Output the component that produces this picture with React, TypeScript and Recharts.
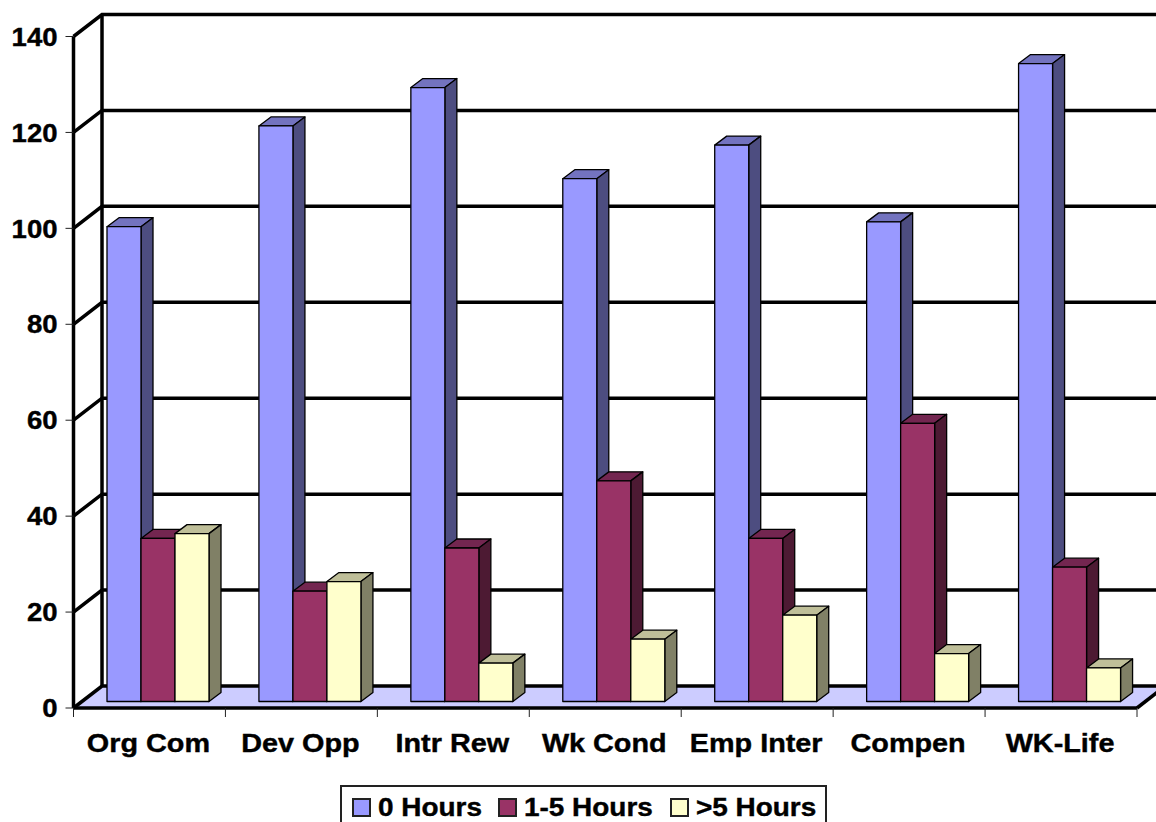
import React from "react";
import { BarChart, Bar, XAxis, YAxis, CartesianGrid, Legend } from "recharts";

const categories = ["Org Com", "Dev Opp", "Intr Rew", "Wk Cond", "Emp Inter", "Compen", "WK-Life"];
const zeroHours = [99, 120, 128, 109, 116, 100, 133];
const oneToFiveHours = [34, 23, 32, 46, 34, 58, 28];
const overFiveHours = [35, 25, 8, 13, 18, 10, 7];
const valueTicks = [0, 20, 40, 60, 80, 100, 120, 140];

const rows = categories.map((name, i) => ({
  name,
  zero: zeroHours[i],
  oneToFive: oneToFiveHours[i],
  overFive: overFiveHours[i],
}));

// Chart frame and the oblique projection of its 3D box
const WIDTH = 1156;
const HEIGHT = 822;
const PLOT_LEFT = 73.5;
const PLOT_RIGHT = 1137;
const PLOT_TOP = 36.5;
const PLOT_BOTTOM = 708;
const WALL_DX = 28.5;
const WALL_DY = -22;
const BAR_DX = 8.5;
const BAR_DY = -6.5;
const BAR_DEPTH_X = 12;
const BAR_DEPTH_Y = -9;
const BAND = (PLOT_RIGHT - PLOT_LEFT) / categories.length;
const FONT = "'Liberation Sans', Arial, sans-serif";
const TEXT_SIZE = 25.5;
const CATEGORY_STRETCH = 1.13;
const VALUE_STRETCH = 1.08;
const LEGEND_STRETCH = 1.095;
const LINE_WIDTH = 3.5;

const shades: Record<string, { top: string; side: string }> = {
  "#9999FF": { top: "#7373BF", side: "#4D4D80" },
  "#993366": { top: "#732650", side: "#4D1A33" },
  "#FFFFCC": { top: "#BFBF99", side: "#808066" },
};

// Front face plus the top and side faces of one bar
function Bar3D(props: any) {
  const { x, y, width, height, fill } = props;
  if (!(height > 0)) return null;
  const left = x + BAR_DX;
  const right = left + width;
  const top = y + BAR_DY;
  const bottom = top + height;
  const tone = shades[fill];
  const common = { stroke: "#000", strokeWidth: 1.3, strokeLinejoin: "round" as const };
  return (
    <g>
      <polygon
        points={`${left},${top} ${left + BAR_DEPTH_X},${top + BAR_DEPTH_Y} ${right + BAR_DEPTH_X},${top + BAR_DEPTH_Y} ${right},${top}`}
        fill={tone.top}
        {...common}
      />
      <polygon
        points={`${right},${top} ${right + BAR_DEPTH_X},${top + BAR_DEPTH_Y} ${right + BAR_DEPTH_X},${bottom + BAR_DEPTH_Y} ${right},${bottom}`}
        fill={tone.side}
        {...common}
      />
      <rect x={left} y={top} width={width} height={height} fill={fill} {...common} />
    </g>
  );
}

// One gridline wraps from the front edge, up the side wall, and across the back wall
function gridLevel(p: any) {
  const y = p.y1;
  const backY = y + WALL_DY;
  const isFloor = Math.abs(y - PLOT_BOTTOM) < 1;
  const isCeiling = Math.abs(y - PLOT_TOP) < 1;
  const backX = PLOT_LEFT + WALL_DX;
  return (
    <g key={p.key}>
      {isFloor && (
        <polygon
          points={`${PLOT_LEFT},${y} ${backX},${backY} ${PLOT_RIGHT + WALL_DX},${backY} ${PLOT_RIGHT},${y}`}
          fill="#CCCCFF"
        />
      )}
      {isFloor && (
        <line x1={PLOT_RIGHT} y1={y} x2={PLOT_RIGHT + WALL_DX} y2={backY} stroke="#000" strokeWidth={LINE_WIDTH} />
      )}
      {isCeiling && (
        <line x1={backX} y1={backY} x2={backX} y2={PLOT_BOTTOM + WALL_DY} stroke="#000" strokeWidth={LINE_WIDTH} />
      )}
      <polyline
        points={`${PLOT_LEFT},${y} ${backX},${backY} ${WIDTH},${backY}`}
        fill="none"
        stroke="#000"
        strokeWidth={LINE_WIDTH}
      />
    </g>
  );
}

function ValueTick(props: any) {
  const { x, y, payload } = props;
  return (
    <text
      transform={`translate(${x},${y}) scale(${VALUE_STRETCH},1)`}
      textAnchor="end"
      dy="0.36em"
      fontFamily={FONT}
      fontWeight="bold"
      fontSize={TEXT_SIZE}
      fill="#000"
      stroke="#000"
      strokeWidth={0.4}
    >
      {payload.value}
    </text>
  );
}

// Tick marks sit on the band boundaries, the label on the band centre
function CategoryTick(props: any) {
  const { x, y, payload, index } = props;
  const edge = x - BAND / 2;
  return (
    <g>
      <line x1={edge} y1={PLOT_BOTTOM} x2={edge} y2={PLOT_BOTTOM + 9} stroke="#222" strokeWidth={1} />
      {index === categories.length - 1 && (
        <line x1={edge + BAND} y1={PLOT_BOTTOM} x2={edge + BAND} y2={PLOT_BOTTOM + 9} stroke="#222" strokeWidth={1} />
      )}
      <text
        transform={`translate(${x - 1},${PLOT_BOTTOM + 44}) scale(${CATEGORY_STRETCH},1)`}
        textAnchor="middle"
        fontFamily={FONT}
        fontWeight="bold"
        fontSize={TEXT_SIZE}
        fill="#000"
        stroke="#000"
        strokeWidth={0.4}
      >
        {payload.value}
      </text>
    </g>
  );
}

const legendStarts = [10, 156, 328];

function LegendBox(props: any) {
  const items = props.payload || [];
  return (
    <div
      style={{
        position: "relative",
        width: 487,
        height: 50,
        boxSizing: "border-box",
        border: "2px solid #222",
        background: "#fff",
      }}
    >
      {items.map((item: any, i: number) => (
        <div key={item.value} style={{ position: "absolute", left: legendStarts[i], top: 11 }}>
          <span
            style={{
              position: "absolute",
              left: 0,
              top: 0,
              width: 19,
              height: 19,
              boxSizing: "border-box",
              background: item.color,
              border: "2px solid #222",
            }}
          />
          <span
            style={{
              position: "absolute",
              left: 26,
              top: -6,
              whiteSpace: "nowrap",
              fontFamily: FONT,
              fontWeight: "bold",
              fontSize: TEXT_SIZE,
              lineHeight: "30px",
              color: "#000",
              WebkitTextStroke: "0.4px #000",
              transformOrigin: "left top",
              transform: `scaleX(${LEGEND_STRETCH})`,
            }}
          >
            {item.value}
          </span>
        </div>
      ))}
    </div>
  );
}

export default function App() {
  return (
    <div
      style={{
        position: "absolute",
        left: 0,
        top: 0,
        width: WIDTH,
        height: HEIGHT,
        overflow: "hidden",
        background: "#fff",
      }}
    >
      <BarChart
        width={WIDTH}
        height={HEIGHT}
        data={rows}
        barSize={34}
        barGap={0}
        margin={{ left: 0, top: PLOT_TOP, right: WIDTH - PLOT_RIGHT, bottom: HEIGHT - PLOT_BOTTOM - 40 }}
      >
        <CartesianGrid vertical={false} horizontal={gridLevel} />
        <XAxis
          dataKey="name"
          height={40}
          interval={0}
          tickLine={false}
          tick={<CategoryTick />}
          axisLine={{ stroke: "#000", strokeWidth: LINE_WIDTH }}
        />
        <YAxis
          width={PLOT_LEFT}
          domain={[0, 140]}
          ticks={valueTicks}
          interval={0}
          tickSize={8}
          tickMargin={8}
          tick={<ValueTick />}
          tickLine={{ stroke: "#222", strokeWidth: 1 }}
          axisLine={{ stroke: "#000", strokeWidth: LINE_WIDTH }}
        />
        <Legend
          layout="horizontal"
          verticalAlign="middle"
          content={<LegendBox />}
          wrapperStyle={{ position: "absolute", left: 340, top: 785, width: 487, height: 50, margin: 0 }}
        />
        <Bar dataKey="zero" name="0 Hours" fill="#9999FF" shape={<Bar3D />} isAnimationActive={false} />
        <Bar dataKey="oneToFive" name="1-5 Hours" fill="#993366" shape={<Bar3D />} isAnimationActive={false} />
        <Bar dataKey="overFive" name=">5 Hours" fill="#FFFFCC" shape={<Bar3D />} isAnimationActive={false} />
      </BarChart>
    </div>
  );
}
